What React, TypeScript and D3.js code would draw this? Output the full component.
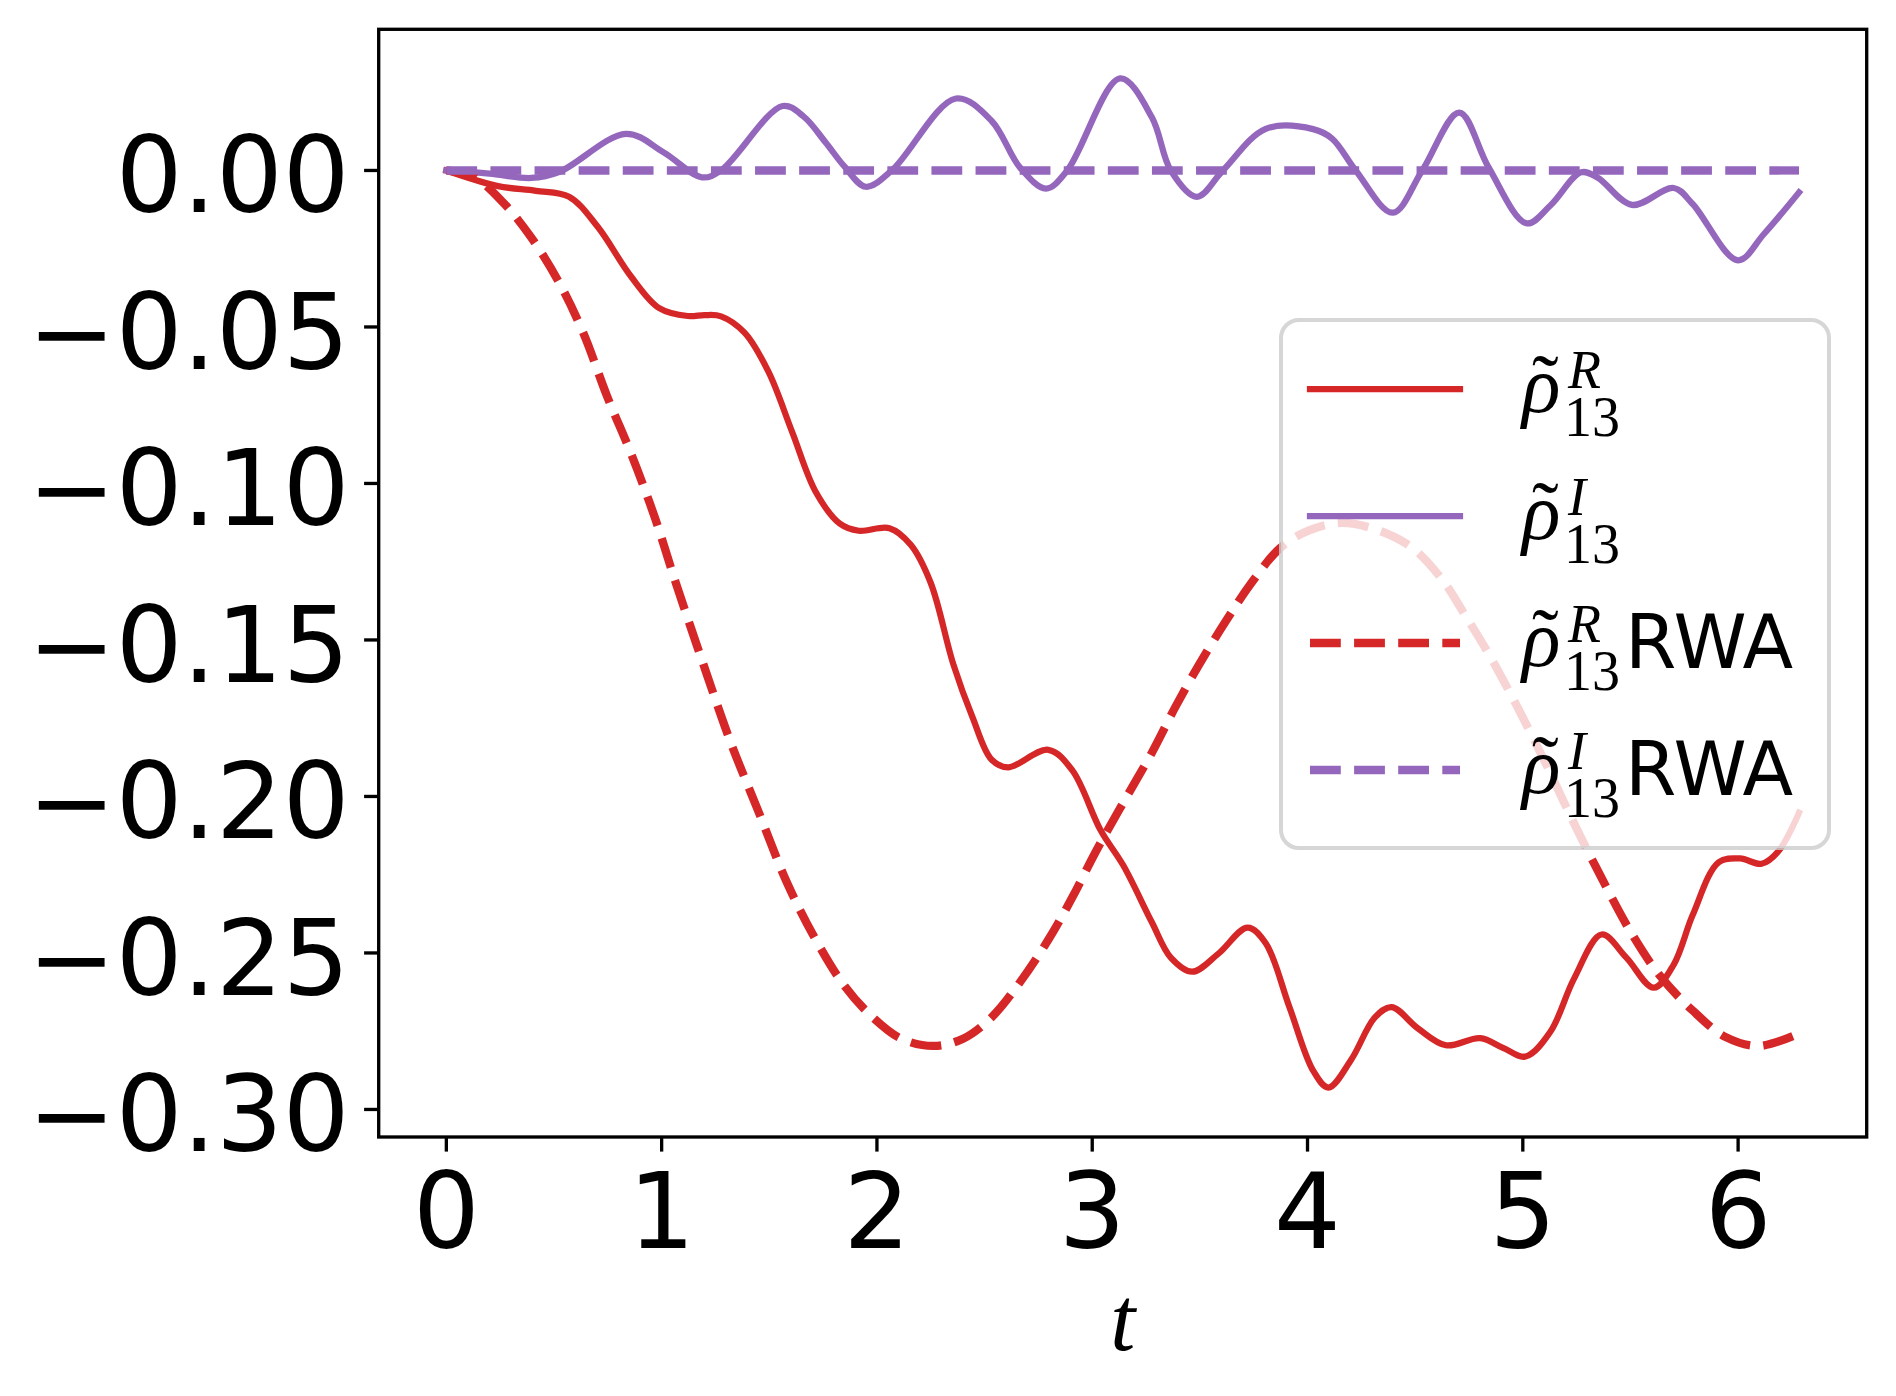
import { useEffect } from 'react';
import * as d3 from 'd3';

const RED = '#d62728';
const PURPLE = '#9467bd';

// rho_13^R (solid red)
const tR = [0, 0.24, 0.416, 0.57, 0.703, 0.857, 0.989, 1.121, 1.2, 1.276, 1.386, 1.496, 1.606, 1.716, 1.827, 1.915, 2.058, 2.157, 2.25, 2.355, 2.444, 2.532, 2.609, 2.796, 2.907, 3.039, 3.144, 3.277, 3.365, 3.464, 3.585, 3.722, 3.806, 3.916, 4.026, 4.097, 4.202, 4.313, 4.39, 4.511, 4.643, 4.802, 4.908, 5.013, 5.128, 5.238, 5.366, 5.481, 5.608, 5.701, 5.789, 5.91, 6.009, 6.109, 6.186, 6.283];
const vR = [0, -0.005, -0.0065, -0.0084, -0.018, -0.0338, -0.044, -0.0465, -0.0462, -0.0466, -0.0519, -0.0643, -0.0835, -0.1027, -0.1128, -0.1151, -0.1143, -0.1196, -0.1318, -0.1578, -0.1747, -0.1882, -0.1907, -0.1851, -0.1916, -0.2108, -0.222, -0.2402, -0.2515, -0.256, -0.2503, -0.2419, -0.2469, -0.2673, -0.2876, -0.293, -0.2842, -0.2706, -0.2673, -0.274, -0.2795, -0.2772, -0.2803, -0.2831, -0.2752, -0.2582, -0.2441, -0.2515, -0.2611, -0.2537, -0.2379, -0.221, -0.2198, -0.2215, -0.2176, -0.2052];

// rho_13^I (solid purple)
const tI = [0, 0.2, 0.394, 0.526, 0.835, 1.011, 1.187, 1.276, 1.562, 1.66, 1.76, 1.85, 1.948, 2.069, 2.367, 2.532, 2.664, 2.785, 2.884, 3.13, 3.277, 3.365, 3.486, 3.607, 3.806, 4.026, 4.114, 4.224, 4.396, 4.533, 4.705, 4.841, 5.018, 5.128, 5.271, 5.348, 5.507, 5.701, 5.789, 5.999, 6.12, 6.283];
const vI = [0, -0.001, -0.0024, -0.0004, 0.0117, 0.0057, -0.0022, 0, 0.0206, 0.0172, 0.0091, 0.0012, -0.0052, 0, 0.023, 0.0159, 0.001, -0.0058, 0, 0.0294, 0.017, 0, -0.0084, 0, 0.0133, 0.0132, 0.0102, 0, -0.0135, 0, 0.0185, 0.001, -0.0169, -0.0112, -0.0006, -0.0023, -0.011, -0.0056, -0.0107, -0.0287, -0.0203, -0.007];

// rho_13^R RWA (dashed red)
const tRwa = [0, 0.13, 0.262, 0.394, 0.526, 0.636, 0.747, 0.857, 0.967, 1.066, 1.188, 1.32, 1.452, 1.584, 1.716, 1.849, 1.981, 2.113, 2.263, 2.4, 2.532, 2.664, 2.796, 2.907, 3.017, 3.144, 3.277, 3.387, 3.497, 3.629, 3.739, 3.872, 4.004, 4.158, 4.334, 4.489, 4.632, 4.731, 4.841, 4.974, 5.106, 5.238, 5.37, 5.503, 5.635, 5.789, 5.943, 6.098, 6.283];
const vRwa = [0, -0.0022, -0.0101, -0.0214, -0.0361, -0.0519, -0.0722, -0.0903, -0.1106, -0.1318, -0.1566, -0.1826, -0.2052, -0.2278, -0.2458, -0.2605, -0.2706, -0.2774, -0.2797, -0.2774, -0.2706, -0.2594, -0.2458, -0.2323, -0.2176, -0.202, -0.186, -0.1713, -0.1578, -0.1431, -0.1318, -0.1207, -0.1151, -0.1126, -0.1151, -0.1207, -0.1313, -0.142, -0.1544, -0.1713, -0.1894, -0.2086, -0.2266, -0.2435, -0.2571, -0.2684, -0.2769, -0.2797, -0.2757];

// rho_13^I RWA (dashed purple)
const tIwa = [0, 6.283];
const vIwa = [0, 0];

const xTicks = [0, 1, 2, 3, 4, 5, 6];
const yTicks = [0, -0.05, -0.1, -0.15, -0.2, -0.25, -0.3];
const yTickLabels = ['0.00', '\u22120.05', '\u22120.10', '\u22120.15', '\u22120.20', '\u22120.25', '\u22120.30'];

const legendSup = ['R', 'I', 'R', 'I'];
const legendRwa = [false, false, true, true];
const legendColors = [RED, PURPLE, RED, PURPLE];
const legendDashed = [false, false, true, true];

const App = () => {
  useEffect(() => {
    document.body.style.margin = '0';
  }, []);

  const width = 1896;
  const height = 1396;
  const plot = { left: 378.7, right: 1866.7, top: 29.3, bottom: 1137 };

  const x = d3.scaleLinear().domain([-0.3142, 6.5973]).range([plot.left, plot.right]);
  const y = d3.scaleLinear().domain([-0.3088, 0.0451]).range([plot.bottom, plot.top]);

  const line = d3.line<[number, number]>()
    .x(d => x(d[0]))
    .y(d => y(d[1]))
    .curve(d3.curveCatmullRom.alpha(0.5));

  const zip = (ts: number[], vs: number[]) => ts.map((t, i) => [t, vs[i]] as [number, number]);

  const solidW = 6.25;
  const dashW = 8.33;
  const dash = '30.8 13.3';
  const tickLen = 14.6;
  const tickFont = 105;
  const sans = 'DejaVu Sans, sans-serif';
  const serif = 'Liberation Serif, Times New Roman, serif';

  const legend = { x: 1281, y: 320, w: 548, h: 528 };
  const legendRows = [389, 516, 643, 770];

  return (
    <svg width={width} height={height} style={{ display: 'block', background: '#fff' }}>
      <rect x={0} y={0} width={width} height={height} fill="#fff" />

      {/* data lines */}
      <path d={line(zip(tR, vR)) || ''} fill="none" stroke={RED} strokeWidth={solidW}
        strokeLinejoin="round" strokeLinecap="square" />
      <path d={line(zip(tI, vI)) || ''} fill="none" stroke={PURPLE} strokeWidth={solidW}
        strokeLinejoin="round" strokeLinecap="square" />
      <path d={line(zip(tRwa, vRwa)) || ''} fill="none" stroke={RED} strokeWidth={dashW}
        strokeDasharray={dash} strokeLinejoin="round" />
      <path d={line(zip(tIwa, vIwa)) || ''} fill="none" stroke={PURPLE} strokeWidth={dashW}
        strokeDasharray={dash} strokeLinejoin="round" />

      {/* frame */}
      <rect x={plot.left} y={plot.top} width={plot.right - plot.left} height={plot.bottom - plot.top}
        fill="none" stroke="#000" strokeWidth={3.33} />

      {/* x ticks */}
      {xTicks.map(t => (
        <g key={'x' + t}>
          <line x1={x(t)} x2={x(t)} y1={plot.bottom} y2={plot.bottom + tickLen} stroke="#000" strokeWidth={3.33} />
          <text x={x(t)} y={1248} textAnchor="middle" fontFamily={sans} fontSize={tickFont} fill="#000">{t}</text>
        </g>
      ))}

      {/* y ticks */}
      {yTicks.map((v, i) => (
        <g key={'y' + i}>
          <line x1={plot.left - tickLen} x2={plot.left} y1={y(v)} y2={y(v)} stroke="#000" strokeWidth={3.33} />
          <text x={plot.left - 2 * tickLen} y={y(v) + 0.397 * tickFont} textAnchor="end"
            fontFamily={sans} fontSize={tickFont} fill="#000">{yTickLabels[i]}</text>
        </g>
      ))}

      {/* x label */}
      <text x={(plot.left + plot.right) / 2} y={1350} textAnchor="middle" fontFamily={serif}
        fontStyle="italic" fontSize={90} fill="#000">t</text>

      {/* legend */}
      <rect x={legend.x} y={legend.y} width={legend.w} height={legend.h} rx={18} ry={18}
        fill="#fff" fillOpacity={0.8} stroke="#cccccc" strokeOpacity={0.8} strokeWidth={4} />
      {legendRows.map((ly, i) => {
        const base = ly + 23;
        return (
          <g key={'leg' + i}>
            <line x1={1310} x2={1460} y1={ly} y2={ly} stroke={legendColors[i]}
              strokeWidth={legendDashed[i] ? dashW : solidW}
              strokeDasharray={legendDashed[i] ? dash : undefined}
              strokeLinecap={legendDashed[i] ? 'butt' : 'square'} />
            <text fontFamily={serif} fill="#000">
              <tspan x={1522} y={base} fontStyle="italic" fontSize={80}>{'\u03C1'}</tspan>
              <tspan x={1532} y={base - 2} fontSize={80}>{'\u02DC'}</tspan>
              <tspan x={1568} y={base - 24} fontStyle="italic" fontSize={54}>{legendSup[i]}</tspan>
              <tspan x={1564} y={base + 24} fontSize={56}>13</tspan>
              {legendRwa[i] && (
                <tspan x={1625} y={base + 2} fontFamily={sans} fontSize={74}>RWA</tspan>
              )}
            </text>
          </g>
        );
      })}
    </svg>
  );
};

export default App;
